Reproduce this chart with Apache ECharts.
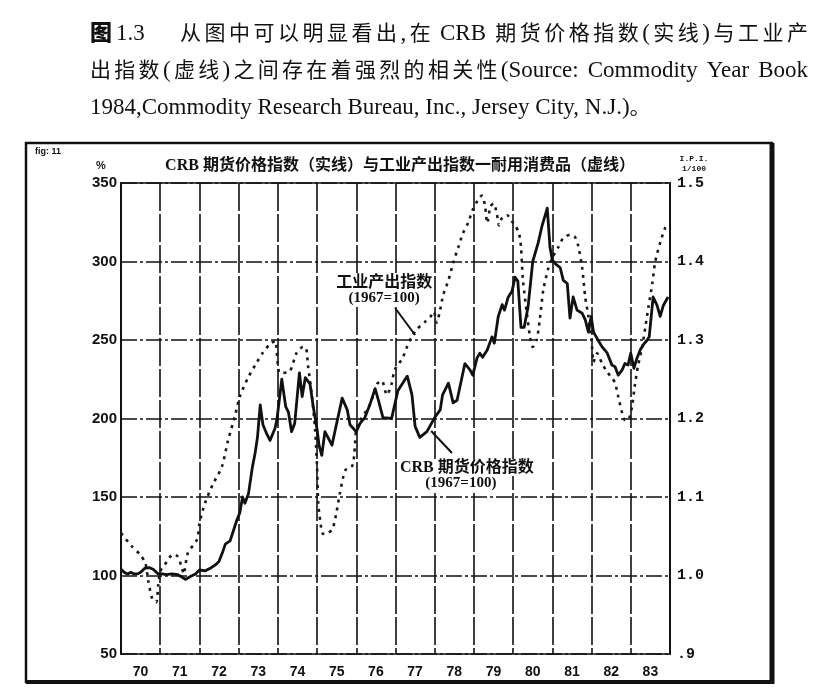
<!DOCTYPE html>
<html><head><meta charset="utf-8">
<script src="https://cdn.jsdelivr.net/npm/echarts@6/dist/echarts.min.js"></script>
<style>html,body{margin:0;padding:0;background:#fff}#c{width:830px;height:695px}</style>
</head><body><div id="c"></div>
<script>
// ---- data ----
const yearLabels = ['70','71','72','73','74','75','76','77','78','79','80','81','82','83'];
const leftAxisRange = [50, 350, 50];
const rightAxisRange = [0.9, 1.5, 0.1];
const timeRange = [1970, 1984];

// CRB futures price index (1967=100), left axis, [year, value]
const crbSeries = [
[1970.00,104],[1970.08,102],[1970.17,101],[1970.25,102],[1970.33,101],[1970.42,101],[1970.50,102],
[1970.60,104.5],[1970.72,105],[1970.82,104],[1970.95,101],[1971.05,101],[1971.15,100.5],[1971.30,101],
[1971.45,100.5],[1971.55,99],[1971.65,97.5],[1971.78,99.5],[1971.90,101],[1972.00,103.5],[1972.15,103],
[1972.30,105],[1972.42,107],[1972.50,109],[1972.60,115.5],[1972.66,120],[1972.78,122],[1972.86,128],
[1972.95,135],[1973.03,140],[1973.10,150],[1973.16,146],[1973.25,152],[1973.35,169],[1973.42,178],
[1973.48,188],[1973.55,208.6],[1973.62,196],[1973.72,190],[1973.80,186],[1973.93,194],[1973.98,200],
[1974.10,225],[1974.20,207.5],[1974.27,204],[1974.35,191.6],[1974.43,197],[1974.55,229],[1974.62,214],
[1974.70,226],[1974.82,222],[1974.90,208],[1975.00,193],[1975.05,183],[1975.12,176.5],[1975.20,191.6],
[1975.38,183],[1975.50,197],[1975.64,213],[1975.77,205.5],[1975.84,196],[1976.00,191.6],[1976.10,197],
[1976.22,200.6],[1976.35,209],[1976.48,219],[1976.56,212],[1976.68,200.6],[1976.90,200],[1977.06,217.6],
[1977.30,227],[1977.42,215],[1977.50,195],[1977.62,188],[1977.80,191.6],[1978.00,200.6],[1978.14,205.5],
[1978.20,215],[1978.35,222.5],[1978.47,210],[1978.57,211.6],[1978.77,235],[1978.90,231],[1978.97,227.6],
[1979.08,238.6],[1979.15,241.6],[1979.22,239],[1979.34,243.6],[1979.46,252],[1979.52,248],[1979.62,265],
[1979.72,272.5],[1979.78,269],[1979.87,277],[1979.97,281],[1980.05,290],[1980.12,287.5],[1980.20,258],
[1980.28,258],[1980.38,271],[1980.50,300],[1980.64,312],[1980.73,322],[1980.87,334],[1980.94,309],
[1981.00,301],[1981.08,298.5],[1981.20,296],[1981.28,288],[1981.38,286],[1981.45,264],[1981.53,277.4],
[1981.63,269],[1981.76,267],[1981.84,262.8],[1981.92,255],[1981.99,265],[1982.05,255],[1982.14,251],
[1982.27,245.6],[1982.40,241.6],[1982.52,234],[1982.60,233],[1982.68,227.6],[1982.78,231],[1982.85,235],
[1982.93,234],[1983.00,241.6],[1983.08,232],[1983.16,238.6],[1983.24,243.6],[1983.32,247],[1983.42,250],
[1983.47,252],[1983.57,277.4],[1983.67,272],[1983.75,265],[1983.83,272],[1983.95,277.4]
];

// Industrial production index, durable consumer goods (I.P.I./100), right axis, [year, value]
const ipiSeries = [
[1970.00,1.054],[1970.28,1.037],[1970.48,1.027],[1970.62,1.016],[1970.70,0.992],[1970.80,0.970],
[1970.90,0.966],[1970.95,0.988],[1971.00,1.005],[1971.12,1.014],[1971.33,1.027],[1971.45,1.024],
[1971.55,1.010],[1971.60,1.002],[1971.70,1.028],[1971.94,1.046],[1972.00,1.066],[1972.14,1.092],
[1972.35,1.117],[1972.57,1.138],[1972.73,1.172],[1972.90,1.202],[1973.03,1.228],[1973.24,1.252],
[1973.47,1.272],[1973.62,1.284],[1973.80,1.295],[1973.93,1.299],[1974.05,1.258],[1974.30,1.260],
[1974.48,1.284],[1974.64,1.291],[1974.72,1.290],[1974.77,1.267],[1974.87,1.228],[1974.95,1.186],
[1975.00,1.138],[1975.03,1.092],[1975.08,1.070],[1975.15,1.053],[1975.28,1.054],[1975.40,1.060],
[1975.50,1.082],[1975.58,1.104],[1975.72,1.134],[1975.90,1.140],[1975.95,1.156],[1976.00,1.186],
[1976.08,1.196],[1976.35,1.218],[1976.53,1.244],[1976.65,1.248],[1976.78,1.230],[1976.90,1.244],
[1976.98,1.262],[1977.17,1.276],[1977.30,1.292],[1977.42,1.305],[1977.55,1.314],[1977.75,1.323],
[1977.93,1.332],[1977.98,1.336],[1978.05,1.322],[1978.12,1.334],[1978.22,1.358],[1978.35,1.376],
[1978.47,1.398],[1978.60,1.418],[1978.72,1.436],[1978.85,1.449],[1978.97,1.466],[1979.10,1.478],
[1979.20,1.484],[1979.28,1.472],[1979.34,1.449],[1979.42,1.470],[1979.50,1.474],[1979.58,1.462],
[1979.64,1.446],[1979.72,1.456],[1979.85,1.459],[1979.95,1.452],[1980.05,1.446],[1980.15,1.436],
[1980.20,1.418],[1980.25,1.376],[1980.35,1.334],[1980.43,1.304],[1980.50,1.291],[1980.60,1.300],
[1980.68,1.326],[1980.77,1.364],[1980.90,1.392],[1981.00,1.405],[1981.15,1.418],[1981.28,1.430],
[1981.45,1.434],[1981.58,1.431],[1981.66,1.420],[1981.76,1.392],[1981.84,1.354],[1981.92,1.330],
[1982.00,1.300],[1982.05,1.272],[1982.14,1.283],[1982.27,1.270],[1982.40,1.259],[1982.52,1.252],
[1982.60,1.245],[1982.68,1.228],[1982.78,1.207],[1982.85,1.198],[1982.93,1.198],[1983.03,1.215],
[1983.10,1.241],[1983.18,1.266],[1983.29,1.291],[1983.37,1.316],[1983.45,1.342],[1983.55,1.372],
[1983.62,1.399],[1983.75,1.424],[1983.87,1.442],[1983.95,1.448]
];

const figMark = '图';
const figNumber = '1.3';
const headerLines = [
  '从图中可以明显看出,在 CRB 期货价格指数(实线)与工业产',
  '出指数(虚线)之间存在着强烈的相关性(Source: Commodity Year Book',
  '1984,Commodity Research Bureau, Inc., Jersey City, N.J.)。'
];
const chartTitle = 'CRB 期货价格指数（实线）与工业产出指数一耐用消费品（虚线）';
const ipiNote = ['工业产出指数', '(1967=100)'];
const crbNote = ['CRB 期货价格指数', '(1967=100)'];
// annotation anchors in data coordinates [year, left-axis value]
const ipiNoteAt = [1976.71, 286.3, 276.8];
const ipiArrow = [[1976.99, 270.4], [1977.50, 253.2]];
const crbNoteAt = [1978.82, 168.5, 158.8];
const crbArrow = [[1978.44, 178], [1977.91, 192]];

// ---- chart ----
const INK = '#111';
const serif = '"Liberation Serif","Noto Sans CJK SC",serif';
const chart = echarts.init(document.getElementById('c'));

chart.setOption({
  animation: false,
  backgroundColor: '#fff',
  grid: { left: 121, right: 160, top: 183, bottom: 41, show: true, borderColor: INK, borderWidth: 1.5, backgroundColor: 'transparent' },
  xAxis: [
    { type: 'category', data: yearLabels, boundaryGap: true, position: 'bottom',
      axisLine: { show: false }, axisTick: { show: false },
      axisLabel: { color: INK, fontFamily: '"Liberation Sans",Arial,sans-serif', fontWeight: 'bold', fontSize: 14, margin: 11, interval: 0 },
      splitLine: { show: true, interval: 0, lineStyle: { color: INK, width: 1.6, type: [28, 3] } } },
    { type: 'value', min: timeRange[0], max: timeRange[1], show: false }
  ],
  yAxis: [
    { type: 'value', min: leftAxisRange[0], max: leftAxisRange[1], interval: leftAxisRange[2], position: 'left',
      axisLine: { show: true, lineStyle: { color: INK, width: 2 } }, axisTick: { show: false },
      axisLabel: { color: INK, fontFamily: '"Liberation Sans",Arial,sans-serif', fontWeight: 'bold', fontSize: 15, margin: 4 },
      splitLine: { show: true, lineStyle: { color: INK, width: 1.6, type: [16, 3, 3, 3] } } },
    { type: 'value', min: rightAxisRange[0], max: rightAxisRange[1], interval: rightAxisRange[2], position: 'right',
      axisLine: { show: true, lineStyle: { color: INK, width: 2 } }, axisTick: { show: false },
      axisLabel: { color: INK, fontFamily: '"Liberation Mono","DejaVu Sans Mono",monospace', fontWeight: 'bold', fontSize: 15, margin: 7,
        formatter: v => (v < 0.95 ? '.9' : v.toFixed(1)) },
      splitLine: { show: false } }
  ],
  series: [
    { name: 'CRB', type: 'line', xAxisIndex: 1, yAxisIndex: 0, data: crbSeries, showSymbol: false, z: 4,
      lineStyle: { color: INK, width: 2.8, join: 'round' } },
    { name: 'IPI', type: 'line', xAxisIndex: 1, yAxisIndex: 1, data: ipiSeries, showSymbol: false, smooth: 0.25, z: 3,
      lineStyle: { color: '#1a1a1a', width: 2.6, type: [3, 5] } }
  ]
});

const px = p => chart.convertToPixel({ xAxisIndex: 1, yAxisIndex: 0 }, p);
const ipiA = px(ipiArrow[0]), ipiB = px(ipiArrow[1]);
const crbA = px(crbArrow[0]), crbB = px(crbArrow[1]);
const ipiT1 = px([ipiNoteAt[0], ipiNoteAt[1]]), ipiT2 = px([ipiNoteAt[0], ipiNoteAt[2]]);
const crbT1 = px([crbNoteAt[0], crbNoteAt[1]]), crbT2 = px([crbNoteAt[0], crbNoteAt[2]]);

const txt = (x, y, text, font, align, bg) => ({
  type: 'text', x, y, silent: true, z: 10,
  style: Object.assign({ text, font, fill: INK, align: align || 'left', verticalAlign: 'middle' }, bg ? { backgroundColor: '#fff' } : {})
});

// justified header lines: CJK characters and Latin words are spread to fill the line
const CJK_FONT = '21px "Noto Sans CJK SC"';
const LAT_FONT = '23px "Liberation Serif"';
const LAT_DY = 2;
const mctx = document.createElement('canvas').getContext('2d');
const measure = (t, f) => { mctx.font = f; return mctx.measureText(t).width; };
const isCJK = c => /[\u3000-\u303f\u3400-\u9fff\uff00-\uffef]/.test(c);
function tokenize(s) {
  const out = []; let buf = ''; let sp = false;
  const flush = () => { if (buf) { out.push({ t: buf, cjk: false, sp }); sp = false; buf = ''; } };
  for (const c of s) {
    if (c === ' ') { flush(); sp = true; continue; }
    if (isCJK(c)) { flush(); out.push({ t: c, cjk: true, sp }); sp = false; continue; }
    if (c === '(') { flush(); buf = c; continue; }
    buf += c;
    if (c === ')' || c === ',') flush();
  }
  flush();
  return out;
}
function lineElems(s, x0, x1, y, justify) {
  const toks = tokenize(s);
  const spW = measure(' ', LAT_FONT);
  toks.forEach(k => { k.w = measure(k.t, k.cjk ? CJK_FONT : LAT_FONT); });
  let natural = 0;
  toks.forEach((k, i) => { natural += k.w + (i > 0 && k.sp ? spW : 0); });
  const extra = justify && toks.length > 1 ? Math.max(0, (x1 - x0 - natural) / (toks.length - 1)) : 0;
  let x = x0; const els = [];
  toks.forEach((k, i) => {
    if (i > 0) x += extra + (k.sp ? spW : 0);
    els.push(txt(x, y + (k.cjk ? 0 : LAT_DY), k.t, k.cjk ? CJK_FONT : LAT_FONT));
    x += k.w;
  });
  return els;
}

const graphics = [
  txt(90, 32, figMark, '900 22px "Noto Sans CJK SC"'),
  txt(116, 32 + LAT_DY, figNumber, LAT_FONT),
  ...lineElems(headerLines[0], 180, 808, 32, true),
  ...lineElems(headerLines[1], 90, 808, 69, true),
  ...lineElems(headerLines[2], 90, 808, 106, false),
  // frame
  { type: 'rect', shape: { x: 26, y: 143, width: 746, height: 539 }, style: { fill: 'none', stroke: INK, lineWidth: 2.5 }, silent: true },
  { type: 'line', shape: { x1: 772, y1: 143, x2: 772, y2: 684 }, style: { stroke: INK, lineWidth: 5 }, silent: true },
  { type: 'line', shape: { x1: 26, y1: 682, x2: 774, y2: 682 }, style: { stroke: INK, lineWidth: 4 }, silent: true },
  txt(35, 152, 'fig: 11', 'bold 9px "Liberation Sans",sans-serif'),
  txt(101, 166, '%', 'bold 11px "Liberation Sans",sans-serif', 'center'),
  txt(400, 166, chartTitle, 'bold 16px ' + serif, 'center'),
  txt(694, 159, 'I.P.I.', 'bold 8px "Liberation Mono",monospace', 'center'),
  txt(694, 169, '1/100', 'bold 8px "Liberation Mono",monospace', 'center'),
  // annotations
  txt(ipiT1[0], ipiT1[1], ipiNote[0], 'bold 16px ' + serif, 'center', true),
  txt(ipiT2[0], ipiT2[1], ipiNote[1], 'bold 15px ' + serif, 'center', true),
  { type: 'line', shape: { x1: ipiA[0], y1: ipiA[1], x2: ipiB[0], y2: ipiB[1] }, style: { stroke: INK, lineWidth: 2 }, z: 10, silent: true },
  txt(crbT1[0], crbT1[1], crbNote[0], 'bold 16px ' + serif, 'center', true),
  txt(crbT2[0] - 6, crbT2[1], crbNote[1], 'bold 15px ' + serif, 'center', true),
  { type: 'line', shape: { x1: crbA[0], y1: crbA[1], x2: crbB[0], y2: crbB[1] }, style: { stroke: INK, lineWidth: 2 }, z: 10, silent: true }
];
chart.setOption({ graphic: graphics });
</script>
</body></html>
